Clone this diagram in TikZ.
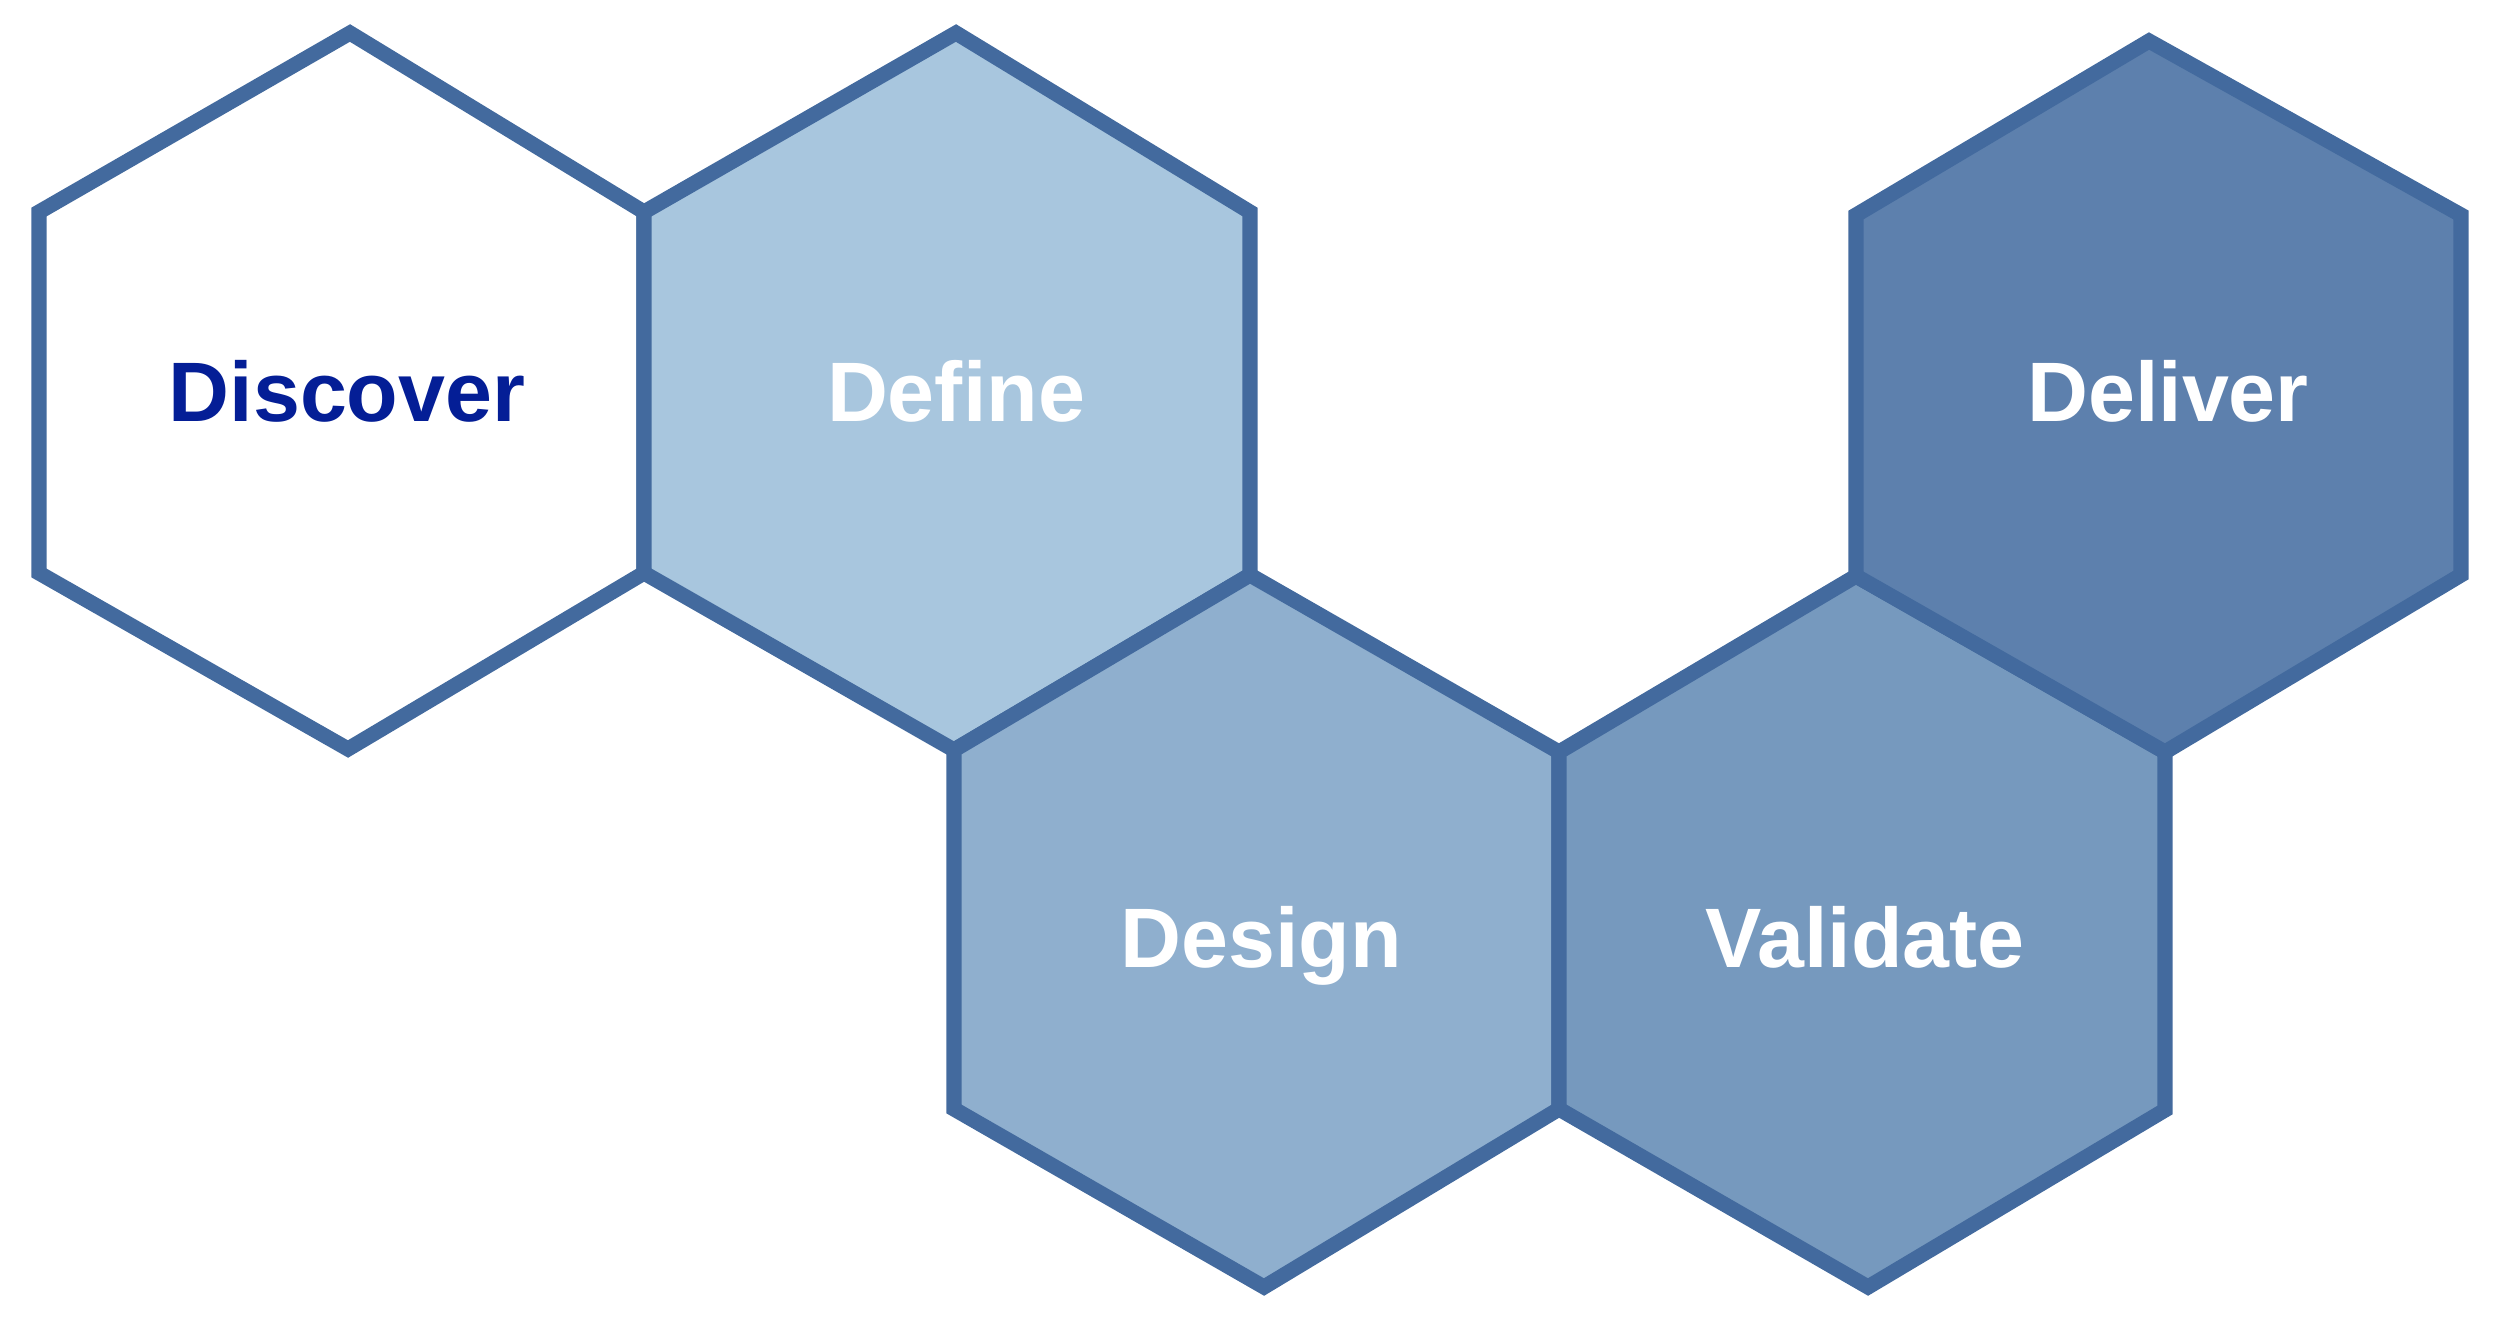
\documentclass[tikz,border=0pt]{standalone}
\usepackage{fontspec}
\setmainfont{Liberation Sans}
\definecolor{edge}{RGB}{67,106,158}
\definecolor{fillA}{RGB}{168,198,222}
\definecolor{fillB}{RGB}{143,175,206}
\definecolor{fillC}{RGB}{118,153,190}
\definecolor{fillD}{RGB}{93,128,173}
\definecolor{darktext}{RGB}{4,30,150}
\tikzset{
  hexa/.style={draw=edge, line width=4.3pt, line join=miter},
  lbl/.style={anchor=base, inner sep=0pt, font=\fontsize{24}{28}\selectfont\bfseries},
}
\begin{document}
\begin{tikzpicture}[x=0.01cm,y=-0.01cm]
\useasboundingbox (0,0) rectangle (2500,1321);
% hexagons
\path[hexa, fill=white] (39,212) -- (350,33) -- (644,212) -- (644,573) -- (348,749) -- (39,573) -- cycle;
\path[hexa, fill=fillA] (644,212) -- (956,33) -- (1250,212) -- (1250,575) -- (954,750) -- (644,573) -- cycle;
\path[hexa, fill=fillB] (954,750) -- (1250,575) -- (1559,752) -- (1559,1109) -- (1264,1287) -- (954,1109) -- cycle;
\path[hexa, fill=fillC] (1559,752) -- (1856,576) -- (2165,752) -- (2165,1110) -- (1868,1287) -- (1559,1109) -- cycle;
\path[hexa, fill=fillD] (1856,215) -- (2149,41) -- (2461,215) -- (2461,575) -- (2165,752) -- (1856,576) -- cycle;
% labels
\node[lbl, text=darktext] (discover) at (347,421) {Discover};
\node[lbl, text=white] (define) at (956,421) {Define};
\node[lbl, text=white] (design) at (1261,967) {Design};
\node[lbl, text=white] (validate) at (1865,967) {Validate};
\node[lbl, text=white] (deliver) at (2168,421) {Deliver};
\end{tikzpicture}
\end{document}
